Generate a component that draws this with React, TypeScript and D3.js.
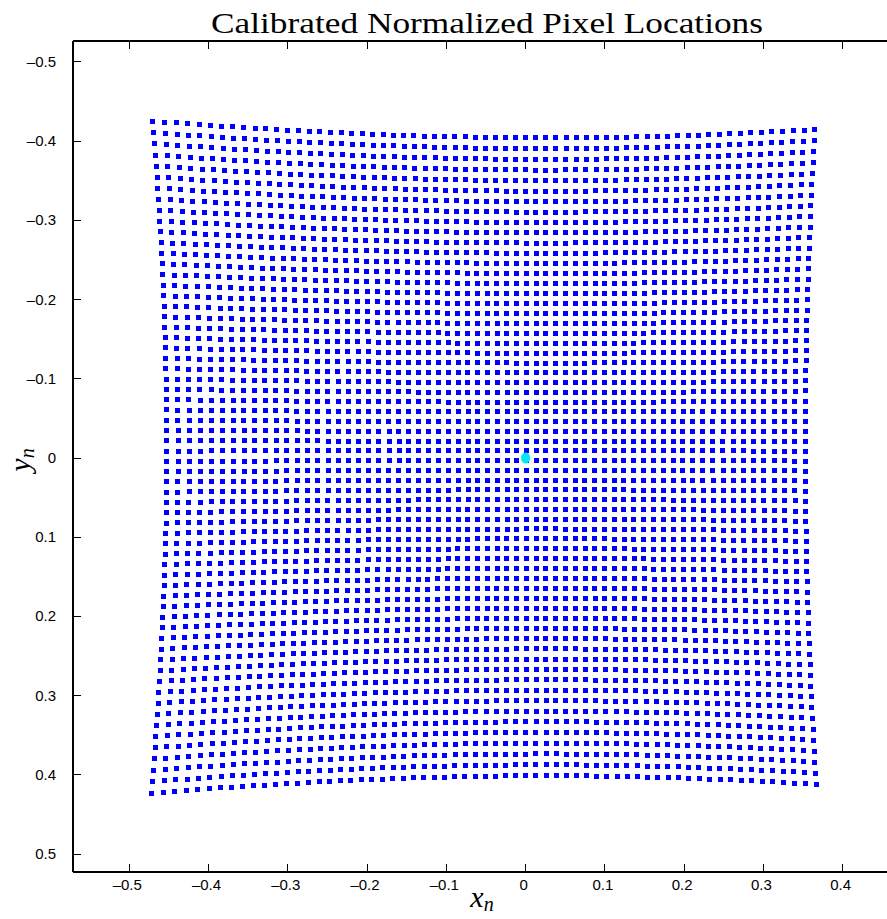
import React from "react";
import * as d3 from "d3";

// Sampled sensor pixel coordinates (every 10 px)
const pixelCols = [0,10,20,30,40,50,60,70,80,90,100,110,120,130,140,150,160,170,180,190,200,210,220,230,240,250,260,270,280,290,300,310,320,330,340,350,360,370,380,390,400,410,420,430,440,450,460,470,480,490,500,510,520,530,540,550,560,570,580,590,600,610,620,630];
const pixelRows = [0,10,20,30,40,50,60,70,80,90,100,110,120,130,140,150,160,170,180,190,200,210,220,230,240,250,260,270,280,290,300,310,320,330,340,350,360,370,380,390,400,410,420,430,440,450,460,470,480,490,500,510,520,530,540,550,560,570,580,590,600,610,620,630];

// Camera calibration
const FX = 816;
const FY = 813.6;
const CX = 349;
const CY = 317.3;
const K1 = 0.27;
const P1 = 0.0036;
const P2 = -0.007;

const xTicks = [-0.5, -0.4, -0.3, -0.2, -0.1, 0, 0.1, 0.2, 0.3, 0.4];
const yTicks = [-0.5, -0.4, -0.3, -0.2, -0.1, 0, 0.1, 0.2, 0.3, 0.4, 0.5];
const xDomain = [-0.571, 0.456];
const yDomain = [-0.5265, 0.5227];
const centerPoint = [0, 0];

const W = 887;
const H = 919;
const L = 73;
const R = 887;
const T = 41;
const B = 872;

function fmt(v: number) {
  if (Math.abs(v) < 1e-9) return "0";
  const s = Math.abs(v).toFixed(1);
  return (v < 0 ? "\u2013" : "") + s;
}

export default function App() {
  const x = d3.scaleLinear().domain(xDomain).range([L, R]);
  const y = d3.scaleLinear().domain(yDomain).range([T, B]);

  const pts: { px: number; py: number }[] = [];
  for (const v of pixelRows) {
    for (const u of pixelCols) {
      const xd = (u - CX) / FX;
      const yd = (v - CY) / FY;
      const r2 = xd * xd + yd * yd;
      const f = 1 + K1 * r2;
      const xn = xd * f + 2 * P1 * xd * yd + P2 * (r2 + 2 * xd * xd);
      const yn = yd * f + P1 * (r2 + 2 * yd * yd) + 2 * P2 * xd * yd;
      pts.push({ px: x(xn), py: y(yn) });
    }
  }

  const sans = "'Liberation Sans', Arial, sans-serif";
  const serif = "'Liberation Serif', 'DejaVu Serif', serif";

  return (
    <svg
      width={W}
      height={H}
      style={{ position: "absolute", left: 0, top: 0, background: "#fff" }}
    >
      <rect x={0} y={0} width={W} height={H} fill="#fff" />
      <g shapeRendering="crispEdges">
        {pts.map((p, i) => (
          <rect
            key={i}
            x={Math.round(p.px - 2.5)}
            y={Math.round(p.py - 2.5)}
            width={5}
            height={5}
            fill="#0000ff"
          />
        ))}
      </g>
      <ellipse
        cx={x(centerPoint[0])}
        cy={y(centerPoint[1])}
        rx={4.5}
        ry={5.5}
        fill="#00e8f0"
      />
      {/* axes box */}
      <g stroke="#000" strokeWidth={1.3} fill="none" shapeRendering="crispEdges">
        <line x1={L} y1={T} x2={R + 5} y2={T} />
        <line x1={L} y1={B} x2={R + 5} y2={B} />
        <line x1={L} y1={T} x2={L} y2={B} />
      </g>
      <g stroke="#000" strokeWidth={1} shapeRendering="crispEdges">
        {xTicks.map((t) => (
          <g key={"xt" + t}>
            <line x1={x(t)} x2={x(t)} y1={B} y2={B - 8} />
            <line x1={x(t)} x2={x(t)} y1={T} y2={T + 8} />
          </g>
        ))}
        {yTicks.map((t) => (
          <line key={"yt" + t} x1={L} x2={L + 8} y1={y(t)} y2={y(t)} />
        ))}
      </g>
      <g fontFamily={sans} fontSize={15} fill="#000">
        {xTicks.map((t) => (
          <text key={"xl" + t} x={x(t) - 2} y={890} textAnchor="middle">
            {fmt(t)}
          </text>
        ))}
        {yTicks.map((t) => (
          <text key={"yl" + t} x={56} y={y(t) + 5} textAnchor="end">
            {fmt(t)}
          </text>
        ))}
      </g>
      <text
        x={487}
        y={33}
        textAnchor="middle"
        fontFamily={serif}
        fontSize={30}
        textLength={552}
        lengthAdjust="spacingAndGlyphs"
      >
        Calibrated Normalized Pixel Locations
      </text>
      <text x={482} y={907} textAnchor="middle" fontFamily={serif} fontSize={30} fontStyle="italic">
        x
        <tspan fontSize={20} dy={4}>n</tspan>
      </text>
      <text
        transform="translate(30,460) rotate(-90)"
        textAnchor="middle"
        fontFamily={serif}
        fontSize={30}
        fontStyle="italic"
      >
        y
        <tspan fontSize={20} dy={4}>n</tspan>
      </text>
    </svg>
  );
}
